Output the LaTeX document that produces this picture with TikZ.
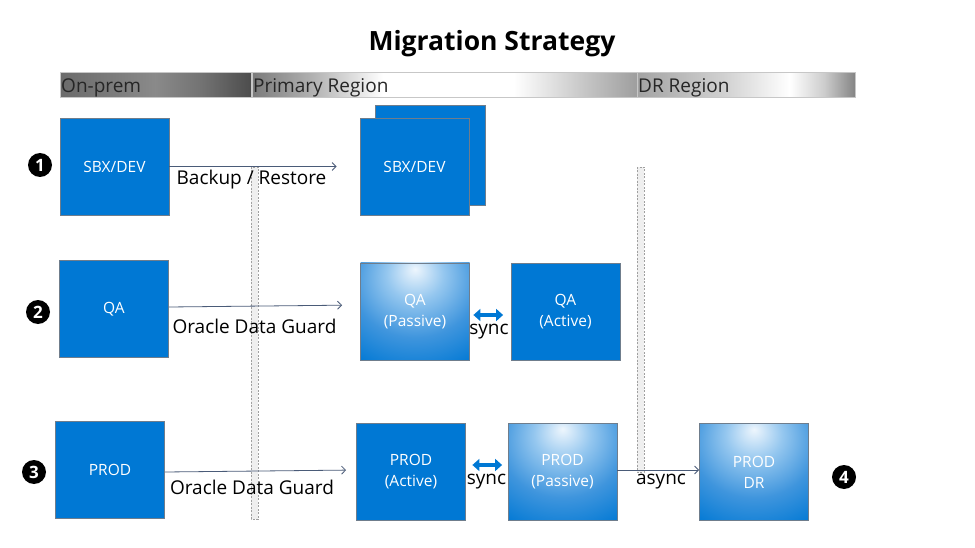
\documentclass[tikz,border=0pt]{standalone}
\usepackage{fontspec}
\setmainfont{Open Sans}
\usetikzlibrary{arrows.meta}
\definecolor{azure}{HTML}{0078D4}
\definecolor{boxborder}{HTML}{6F7D8C}
\definecolor{arrowcol}{HTML}{4A5B78}
\definecolor{glowA}{HTML}{EEF6FD}
\definecolor{glowB}{HTML}{95C7EF}
\definecolor{glowC}{HTML}{3F95DD}
\definecolor{stripfill}{HTML}{EFEFEF}
\definecolor{stripline}{HTML}{A0A0A0}
\pgfdeclareradialshading{boxglow}{\pgfpoint{0bp}{22bp}}{%
  color(0bp)=(glowA); color(13bp)=(glowB); color(29bp)=(glowC); color(46bp)=(azure); color(100bp)=(azure)}
\pgfdeclarehorizontalshading{onpremshade}{100bp}{%
  color(0bp)=(black!58); color(25bp)=(black!58); color(38bp)=(black!52); color(50bp)=(black!46);
  color(62bp)=(black!55); color(75bp)=(black!70); color(100bp)=(black!70)}
\pgfdeclarehorizontalshading{primshade}{100bp}{%
  color(0bp)=(black!52); color(25bp)=(black!52); color(33bp)=(black!30); color(42bp)=(white);
  color(59bp)=(white); color(68bp)=(black!22); color(75bp)=(black!38); color(100bp)=(black!38)}
\pgfdeclarehorizontalshading{drshade}{100bp}{%
  color(0bp)=(black!36); color(25bp)=(black!36); color(45bp)=(black!18); color(60bp)=(white);
  color(68bp)=(black!20); color(75bp)=(black!48); color(100bp)=(black!48)}
\tikzset{
  box/.style={draw=boxborder, line width=0.8pt, fill=azure, text=white,
    minimum width=109pt, minimum height=97pt, inner sep=0pt, align=center,
    font=\fontsize{15.5}{21}\selectfont},
  glowbox/.style={box, shading=boxglow},
  hdr/.style={draw=black!22, line width=0.8pt, minimum height=25pt, inner sep=0pt},
  hdrtext/.style={anchor=west, inner sep=0pt, font=\fontsize{19}{22}\selectfont, text=black!85},
  strip/.style={draw=stripline, dashed, dash pattern=on 2pt off 1.5pt, line width=0.6pt, fill=stripfill},
  conn/.style={draw=arrowcol, line width=0.8pt, -{Straight Barb[length=4pt,width=8pt]}},
  syncarrow/.style={draw=azure, line width=4pt, {Triangle[length=7pt,width=12pt]}-{Triangle[length=7pt,width=12pt]}},
  lbl/.style={font=\fontsize{19}{22}\selectfont, inner sep=0pt},
  num/.style={circle, fill=black, text=white, minimum size=24pt, inner sep=0pt,
    font=\bfseries\fontsize{17}{17}\selectfont}
}
\begin{document}
\begin{tikzpicture}[x=1pt,y=-1pt]
\useasboundingbox (0,0) rectangle (975,548);
\fill[white] (0,0) rectangle (975,548);
% title
\node[font=\bfseries\fontsize{26.5}{30}\selectfont, inner sep=0pt] (title) at (492,44) {Migration Strategy};
% header bars
\path[hdr, shading=onpremshade] (60,72.5) rectangle (251,97.5);
\path[hdr, shading=primshade] (252,72.5) rectangle (637,97.5);
\path[hdr, shading=drshade] (637,72.5) rectangle (855,97.5);
\node[hdrtext] (honprem) at (61,88) {On-prem};
\node[hdrtext] (hprim) at (253,88) {Primary Region};
\node[hdrtext] (hdr) at (638,88) {DR Region};
% dashed strips
\path[strip] (251,167) rectangle (258,519);
\path[strip] (637,167) rectangle (644,472);
% boxes
\node[box] (sbx1) at (114.5,166.5) {SBX/DEV};
\node[box, minimum width=110pt, minimum height=100pt] (sbx2b) at (430,155) {};
\node[box] (sbx2) at (414.5,166.5) {SBX/DEV};
\node[box] (qa1) at (114,309) {QA};
\node[glowbox] (qap) at (415,311.5) {QA\\(Passive)};
\node[box] (qaa) at (565.5,311.5) {QA\\(Active)};
\node[box] (prod1) at (110,469.5) {PROD};
\node[box] (proda) at (411,471.5) {PROD\\(Active)};
\node[glowbox] (prodp) at (562.5,471.5) {PROD\\(Passive)};
\node[glowbox] (proddr) at (754,472) {PROD\\DR};
% connectors
\draw[conn, shorten >=23pt] (sbx1.east) -- (sbx2.west);
\draw[conn, shorten >=18pt] ([yshift=2pt]qa1.east) -- ([yshift=6.5pt]qap.west);
\draw[conn, shorten >=10pt] ([yshift=-2.5pt]prod1.east) -- ([yshift=1.5pt]proda.west);
\draw[conn] ([yshift=1.5pt]prodp.east) -- ([yshift=2pt]proddr.west);
\draw[syncarrow, shorten <=3.5pt, shorten >=7.5pt] ([yshift=-3.5pt]qap.east) -- ([yshift=-3.5pt]qaa.west);
\draw[syncarrow, shorten <=6.5pt, shorten >=5.5pt] ([yshift=6.5pt]proda.east) -- ([yshift=6.5pt]prodp.west);
% labels
\node[lbl] (l1) at (251.5,180) {Backup / Restore};
\node[lbl] (l2) at (254.5,326) {Oracle Data Guard};
\node[lbl] (l3) at (252,487) {Oracle Data Guard};
\node[lbl] (s1) at (489,332) {sync};
\node[lbl] (s2) at (486.5,482) {sync};
\node[lbl] (as) at (661,482) {async};
% numbers
\node[num] (n1) at (40,165) {1};
\node[num] (n2) at (38,312) {2};
\node[num] (n3) at (34,472) {3};
\node[num] (n4) at (844,477) {4};
\end{tikzpicture}
\end{document}
